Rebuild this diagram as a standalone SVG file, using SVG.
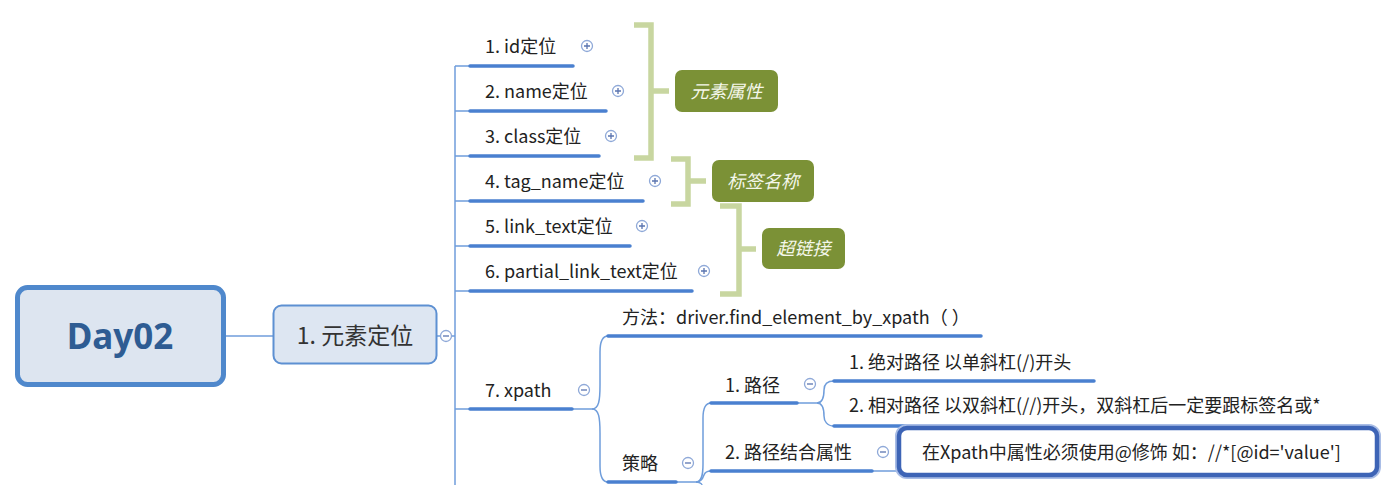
<svg xmlns="http://www.w3.org/2000/svg" width="1383" height="485" viewBox="0 0 1383 485">
<style>
.t{font-family:"Noto Sans CJK SC","Noto Sans",sans-serif;font-size:18px;fill:#222}
.ul{stroke:#4a80d0;stroke-width:3.5;fill:none;stroke-linecap:round}
.cn{stroke:#6f9ddb;stroke-width:1.5;fill:none}
.br{stroke:#c8d6a0;stroke-width:5.5;fill:none}
.tag{fill:#7b9136}
.tg{font-family:"Noto Sans CJK SC","Noto Sans",sans-serif;font-size:18px;font-style:italic;fill:#f4f7ea}
.ic{fill:#fff;stroke:#8fa9d8;stroke-width:1.3}
.is{stroke:#5a74b0;stroke-width:1.3}
</style>
<defs>
<g id="plus"><circle class="ic" r="5.5"/><path class="is" d="M-3,0H3M0,-3V3"/></g>
<g id="minus"><circle class="ic" r="5.5"/><path class="is" d="M-3,0H3"/></g>
</defs>
<rect width="1383" height="485" fill="#fff"/>
<g id="connectors">
<path class="cn" d="M226,336H273"/>
<path class="cn" d="M437,336H455"/>
<path class="cn" d="M455,66V485"/>
<path class="cn" d="M455,66H469M455,111H469M455,156H469M455,201H469M455,246H469M455,291H469M455,409H469"/>
<path class="cn" d="M573,409H592C599,409 600,400 600,385V352C600,342 602,336 608,336"/>
<path class="cn" d="M592,409C599,409 600,418 600,433V466C600,476 602,482 608,482"/>
<path class="cn" d="M677,482H696C702,482 703,474 703,464V418C703,408 705,403 711,403"/>
<path class="cn" d="M696,482C701,482 703,478 704,475C705,472 707,471 711,471"/>
<path class="cn" d="M696,482C701,482 703,484 703,490"/>
<path class="cn" d="M798,403H817C823,403 824,396 824,390C824,385 827,381 834,381"/>
<path class="cn" d="M817,403C823,403 824,410 824,416C824,421 827,426 834,426"/>
<path class="cn" d="M873,471H899"/>
</g>
<g id="brackets">
<path class="br" d="M634,25H651V158H634M651,91H669"/>
<path class="br" d="M671,159H688V204H671M688,181H706"/>
<path class="br" d="M720,206H739V294H720M739,249H756"/>
</g>
<g id="root">
<rect x="17.5" y="287.5" width="206" height="97" rx="10" fill="#dde5f0" stroke="#4f88cc" stroke-width="5"/>
<text x="120" y="349" text-anchor="middle" style="font-family:'Noto Sans','Liberation Sans',sans-serif;font-size:35px;font-weight:bold;fill:#2e5c93">Day02</text>
</g>
<g id="n1">
<rect x="273.5" y="305.5" width="163" height="58" rx="8" fill="#dde6f2" stroke="#5d90d2" stroke-width="2"/>
<text x="355" y="344" text-anchor="middle" class="t" style="font-size:23px;fill:#333">1. 元素定位</text>
<use href="#minus" x="446" y="336"/>
</g>
<g id="id"><text class="t" x="485" y="53">1. id定位</text><path class="ul" d="M470,66H573"/><use href="#plus" x="587" y="46"/></g>
<g id="name"><text class="t" x="485" y="98">2. name定位</text><path class="ul" d="M470,111H606"/><use href="#plus" x="618" y="91"/></g>
<g id="class"><text class="t" x="485" y="143">3. class定位</text><path class="ul" d="M470,156H599"/><use href="#plus" x="611" y="136"/></g>
<g id="tag"><text class="t" x="485" y="188">4. tag_name定位</text><path class="ul" d="M470,201H643"/><use href="#plus" x="655" y="181"/></g>
<g id="link"><text class="t" x="485" y="233">5. link_text定位</text><path class="ul" d="M470,246H630"/><use href="#plus" x="642" y="226"/></g>
<g id="partial"><text class="t" x="485" y="278">6. partial_link_text定位</text><path class="ul" d="M470,291H692"/><use href="#plus" x="704" y="271"/></g>
<g id="xpath"><text class="t" x="485" y="397">7. xpath</text><path class="ul" d="M470,409H572"/><use href="#minus" x="584" y="390"/></g>
<g id="method"><text class="t" x="622" y="324">方法：driver.find_element_by_xpath（ ）</text><path class="ul" d="M608,336H981"/></g>
<g id="strategy"><text class="t" x="622" y="470">策略</text><path class="ul" d="M608,482H676"/><use href="#minus" x="688" y="463"/></g>
<g id="path1"><text class="t" x="725" y="392">1. 路径</text><path class="ul" d="M711,403H797"/><use href="#minus" x="810" y="384"/></g>
<g id="abs"><text class="t" x="849" y="369">1. 绝对路径 以单斜杠(/)开头</text><path class="ul" d="M834,381H1094"/></g>
<g id="rel"><text class="t" x="849" y="412">2. 相对路径 以双斜杠(//)开头，双斜杠后一定要跟标签名或*</text><path class="ul" d="M834,426H1360"/></g>
<g id="path2"><text class="t" x="725" y="459">2. 路径结合属性</text><path class="ul" d="M711,471H872"/><use href="#minus" x="883" y="452"/></g>
<g id="attr">
<rect x="899" y="428" width="478" height="47" rx="8" fill="#fff" stroke="#a9bde6" stroke-width="8"/>
<rect x="899" y="428" width="478" height="47" rx="8" fill="#fff" stroke="#3d64b6" stroke-width="4.5"/>
<text class="t" x="922" y="459">在Xpath中属性必须使用@修饰 如：//*[@id='value']</text>
</g>
<g id="g1"><rect class="tag" x="675" y="70" width="103" height="42" rx="7"/><text class="tg" x="726.5" y="98" text-anchor="middle">元素属性</text></g>
<g id="g2"><rect class="tag" x="712" y="160" width="102" height="42" rx="7"/><text class="tg" x="763" y="188" text-anchor="middle">标签名称</text></g>
<g id="g3"><rect class="tag" x="762" y="228" width="83" height="41" rx="7"/><text class="tg" x="803.5" y="255" text-anchor="middle">超链接</text></g>
</svg>
